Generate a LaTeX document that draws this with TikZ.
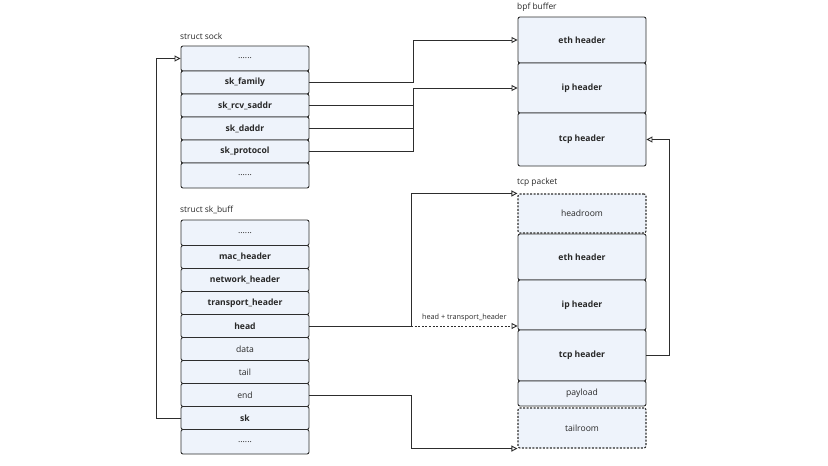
\documentclass[tikz,border=0pt]{standalone}
\usepackage{fontspec}
\setmainfont{Open Sans}
\usepackage{xcolor}
\usepackage{tikz}
\usetikzlibrary{arrows.meta}

\definecolor{linec}{RGB}{45,45,45}
\definecolor{cellc}{RGB}{238,243,251}
\definecolor{txtc}{RGB}{40,40,40}

\begin{document}
\begin{tikzpicture}[x=1pt,y=1pt,yscale=-1,xscale=1,
  fld/.style={draw=linec, fill=cellc, rounded corners=2pt, line width=0.9pt, minimum width=128pt, inner sep=0pt, text=txtc, font=\fontsize{8.6}{10}\selectfont},
  bfld/.style={fld, font=\fontsize{8.6}{10}\selectfont\bfseries},
  roomcell/.style={fld, line width=1.1pt, dash pattern=on 2pt off 1.5pt},
  title/.style={anchor=west, inner sep=0pt, text=txtc, font=\fontsize{8.4}{10}\selectfont},
  link/.style={draw=linec, line width=0.9pt, -{Triangle[open,length=6pt,width=6pt]}}]
\useasboundingbox (0,0) rectangle (828,466);

% struct sock
\node [title] (tsock) at (180,36) {struct sock};
\node [fld, minimum height=25pt] (sdots1) at (245,58.5) {......};
\node [bfld, minimum height=23pt] (skfam) at (245,82.5) {sk\_family};
\node [bfld, minimum height=23pt] (skrcv) at (245,105.5) {sk\_rcv\_saddr};
\node [bfld, minimum height=23pt] (skdaddr) at (245,128.5) {sk\_daddr};
\node [bfld, minimum height=23pt] (skproto) at (245,151.5) {sk\_protocol};
\node [fld, minimum height=25pt] (sdots2) at (245,175.5) {......};

% struct sk_buff
\node [title] (tbuff) at (180,210) {struct sk\_buff};
\node [fld, minimum height=25.5pt] (bdots1) at (245,232.75) {......};
\node [bfld, minimum height=23pt] (skmac) at (245,257) {mac\_header};
\node [bfld, minimum height=23pt] (sknet) at (245,280) {network\_header};
\node [bfld, minimum height=23pt] (sktrans) at (245,303) {transport\_header};
\node [bfld, minimum height=23pt] (skhead) at (245,326) {head};
\node [fld, minimum height=23pt] (skdata) at (245,349) {data};
\node [fld, minimum height=23pt] (sktail) at (245,372) {tail};
\node [fld, minimum height=23pt] (skend) at (245,395) {end};
\node [bfld, minimum height=23pt] (sksk) at (245,418) {sk};
\node [fld, minimum height=24.5pt] (bdots2) at (245,441.75) {......};

% bpf buffer
\node [title] (tbpf) at (517,7) {bpf buffer};
\node [bfld, minimum height=46pt] (beth) at (582,40) {eth header};
\node [bfld, minimum height=50pt] (bip) at (582,88) {ip header};
\node [bfld, minimum height=53pt] (btcp) at (582,139.5) {tcp header};

% tcp packet
\node [title] (tpkt) at (517,182) {tcp packet};
\node [roomcell, minimum height=39pt] (hroom) at (582,213.5) {headroom};
\node [bfld, minimum height=46pt] (peth) at (582,257) {eth header};
\node [bfld, minimum height=50pt] (pip) at (582,305) {ip header};
\node [bfld, minimum height=51pt] (ptcp) at (582,355.5) {tcp header};
\node [fld, minimum height=25pt] (pload) at (582,393.5) {payload};
\node [roomcell, minimum height=40pt] (troom) at (582,428) {tailroom};

% connectors
\coordinate (jsock) at (413,0);
\coordinate (jbuf) at (411,0);
\draw [link] (skfam.east) -| (jsock |- beth.west) -- (beth.west);
\draw [draw=linec, line width=0.9pt] (skrcv.east) -- (jsock |- skrcv.east);
\draw [draw=linec, line width=0.9pt] (skdaddr.east) -- (jsock |- skdaddr.east);
\draw [link] (skproto.east) -| (jsock |- bip.west) -- (bip.west);
\draw [link] (ptcp.east) -- ++(23,0) |- (btcp.east);
\draw [link] (sksk.west) -- ++(-24,0) |- (sdots1.west);
\draw [link] (skhead.east) -| (jbuf |- hroom.north west) -- (hroom.north west);
\draw [link, dash pattern=on 2pt off 1.6pt] (jbuf |- skhead.east) -- (ptcp.west |- skhead.east) node [midway, above=4pt, inner sep=0pt, text=txtc, font=\fontsize{7.3}{9}\selectfont] {head + transport\_header};
\draw [link] (skend.east) -| (jbuf |- troom.south west) -- (troom.south west);

\end{tikzpicture}
\end{document}
